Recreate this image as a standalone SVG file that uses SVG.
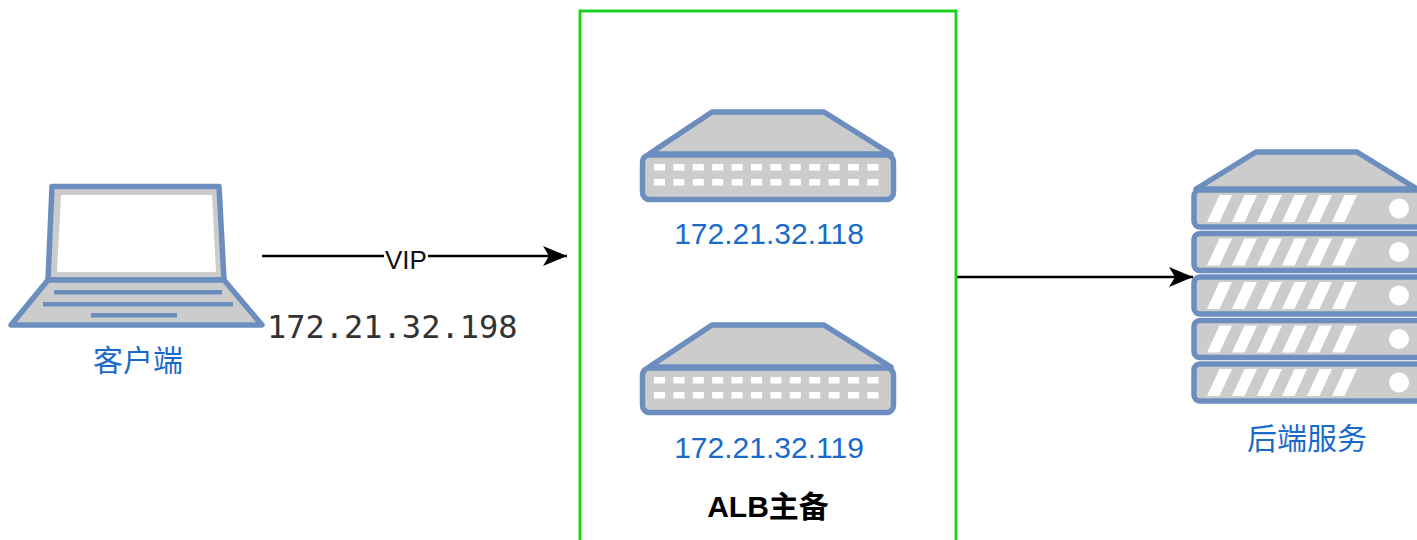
<svg xmlns="http://www.w3.org/2000/svg" xmlns:xlink="http://www.w3.org/1999/xlink" width="1417" height="540" viewBox="0 0 1417 540">
<style>
.s{fill:#ccc;stroke:#6c8ebf;stroke-width:5.5;stroke-linejoin:round}
.k{fill:#6c8ebf}
.w{fill:#fff}
.t{font-family:"Liberation Sans","Noto Sans CJK SC",sans-serif;font-size:30px;fill:#1a6bc9;text-anchor:middle}
.c{stroke:#000;stroke-width:2.5;fill:none}
</style>
<defs>
<marker id="a" markerUnits="userSpaceOnUse" markerWidth="26" markerHeight="24" refX="25" refY="12" orient="auto"><path d="M1 2 L25 12 L1 22 L7 12 Z" fill="#000"/></marker>
<g id="sw">
<path class="s" d="M712 112H824L891 154H649Z"/>
<rect class="s" x="642.500" y="155" width="251" height="44.500" rx="7"/>
<path class="w" d="M654 164h11v6.500h-11zM673.400 164h11v6.500h-11zM692.800 164h11v6.500h-11zM712.200 164h11v6.500h-11zM731.600 164h11v6.500h-11zM751 164h11v6.500h-11zM770.400 164h11v6.500h-11zM789.800 164h11v6.500h-11zM809.200 164h11v6.500h-11zM828.600 164h11v6.500h-11zM848 164h11v6.500h-11zM867.400 164h11v6.500h-11zM654 179h11v6.500h-11zM673.400 179h11v6.500h-11zM692.800 179h11v6.500h-11zM712.200 179h11v6.500h-11zM731.600 179h11v6.500h-11zM751 179h11v6.500h-11zM770.400 179h11v6.500h-11zM789.800 179h11v6.500h-11zM809.200 179h11v6.500h-11zM828.600 179h11v6.500h-11zM848 179h11v6.500h-11zM867.400 179h11v6.500h-11z"/>
</g>
<g id="row">
<rect class="s" x="1194" y="190" width="228" height="37" rx="6"/>
<path class="w" d="M1207 222L1219.500 195H1232L1219.500 222ZM1232 222L1244.500 195H1257L1244.500 222ZM1257 222L1269.500 195H1282L1269.500 222ZM1282 222L1294.500 195H1307L1294.500 222ZM1307 222L1319.500 195H1332L1319.500 222ZM1332 222L1344.500 195H1357L1344.500 222Z"/>
<circle class="w" cx="1399" cy="208.500" r="10"/>
</g>
</defs>
<g id="connectors">
<path class="c" d="M262 256H384M428 256H567" marker-end="url(#a)"/>
<path class="c" d="M957 277H1193" marker-end="url(#a)"/>
</g>
<g id="alb"><rect x="580" y="11" width="376" height="560" fill="none" stroke="#1fd11f" stroke-width="3"/>
<text x="768" y="517" font-family="Liberation Sans,Noto Sans CJK SC,sans-serif" font-size="30" font-weight="bold" text-anchor="middle" fill="#000">ALB主备</text></g>
<g id="client">
<path class="s" d="M52 186.500H219L224 280H48Z"/>
<path class="w" d="M61 195H212L216 272H57Z"/>
<path class="s" d="M48 280H224L262 325H11Z"/>
<rect class="k" x="54" y="290" width="168" height="4.500"/>
<rect class="k" x="43" y="302" width="190" height="4.500"/>
<rect class="k" x="91" y="313" width="86" height="4.500"/>
<text class="t" x="138" y="371">客户端</text>
</g>
<g id="vip"><text x="406" y="269" font-family="Liberation Sans,sans-serif" font-size="26" text-anchor="middle" fill="#111">VIP</text></g>
<g id="ip"><text x="267" y="338" font-family="DejaVu Sans Mono,monospace" font-size="32" fill="#333">172.21.32.198</text></g>
<g id="sw1"><use xlink:href="#sw" href="#sw"/><text class="t" x="769" y="244">172.21.32.118</text></g>
<g id="sw2"><use xlink:href="#sw" href="#sw" y="213"/><text class="t" x="769" y="458">172.21.32.119</text></g>
<g id="backend">
<path class="s" d="M1256 152H1357L1417 189H1196Z"/>
<use xlink:href="#row" href="#row"/>
<use xlink:href="#row" href="#row" y="43.500"/>
<use xlink:href="#row" href="#row" y="87"/>
<use xlink:href="#row" href="#row" y="130.500"/>
<use xlink:href="#row" href="#row" y="174"/>
<text class="t" x="1307" y="449">后端服务</text>
</g>
</svg>
